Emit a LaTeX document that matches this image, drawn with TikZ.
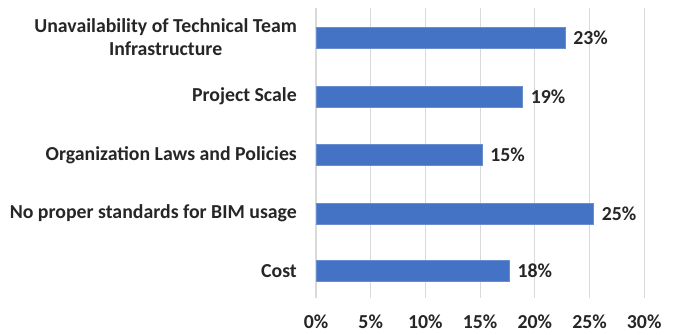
\documentclass[tikz,border=0pt]{standalone}
\usepackage{fontspec}
\setmainfont{Carlito}
\definecolor{barblue}{HTML}{4472C4}

\begin{document}
\begin{tikzpicture}
  [x=1pt,y=-1pt,
   every node/.style={font=\bfseries\fontsize{19.8}{23}\selectfont,text=black!85,inner sep=0pt},
   grid/.style={draw=black!15,line width=1.2pt},
   bar/.style={fill=barblue,draw=barblue!80!white,line width=.6pt}]
  \useasboundingbox (0,0) rectangle (676,334);
  % vertical gridlines and axis ticks
  \foreach \p/\pct in {0/0,1/5,2/10,3/15,4/20,5/25,6/30}{
    \draw[grid] (316+54.7*\p,8) -- (316+54.7*\p,298);
    \node[anchor=base] (tick\p) at (316+54.7*\p,328) {\pct\%};
  }
  % category labels
  \node[anchor=east,align=center] (techteam) at (297,37.5) {Unavailability of Technical Team\\Infrastructure};
  \node[anchor=east] (scale) at (297,96.5) {Project Scale};
  \node[anchor=east] (laws) at (297,155) {Organization Laws and Policies};
  \node[anchor=east] (standards) at (297,213.5) {No proper standards for BIM usage};
  \node[anchor=east] (cost) at (297,271) {Cost};
  % bars with value labels
  \foreach \name/\y/\v/\lab in {techteam/37.5/22.8/23,scale/96.5/18.9/19,
              laws/155/15.2/15,standards/213.5/25.4/25,cost/271/17.7/18}{
    \draw[bar] (316,\y-10.5) rectangle (316+10.93*\v,\y+10.5);
    \node[anchor=west] (\name val) at (316+10.93*\v+8,\y) {\lab\%};
  }
\end{tikzpicture}
\end{document}
